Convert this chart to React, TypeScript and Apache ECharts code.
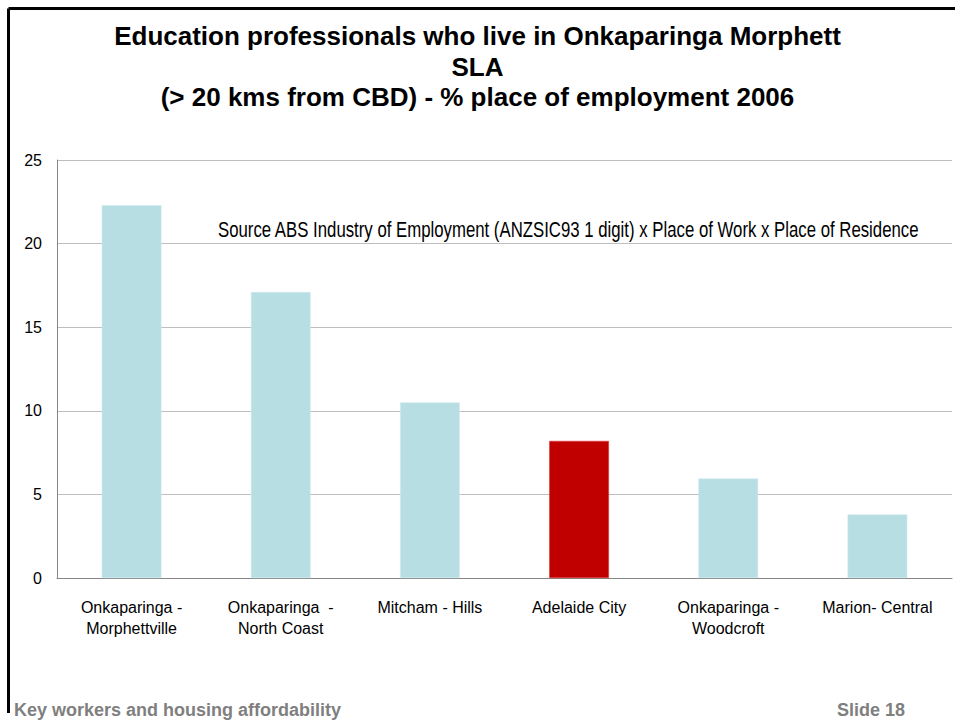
import React, { useEffect, useRef } from "react";
import * as echarts from "echarts";

const categories = [
  "Onkaparinga -\nMorphettville",
  "Onkaparinga  -\nNorth Coast",
  "Mitcham - Hills",
  "Adelaide City",
  "Onkaparinga -\nWoodcroft",
  "Marion- Central",
];
const values = [22.3, 17.1, 10.5, 8.2, 5.95, 3.8];
const highlightIndex = 3;
const yTicks = { min: 0, max: 25, interval: 5 };
const titleText =
  "Education professionals who live in Onkaparinga Morphett\nSLA\n(> 20 kms from CBD) - % place of employment 2006";
const sourceText =
  "Source ABS Industry of Employment (ANZSIC93 1 digit) x Place of Work x Place of Residence";
const footerLeft = "Key workers and housing affordability";
const footerRight = "Slide 18";

function measure(text: string, font: string): number {
  const c = document.createElement("canvas");
  const ctx = c.getContext("2d");
  if (!ctx) return 1;
  ctx.font = font;
  return ctx.measureText(text).width;
}

export default function App() {
  const ref = useRef<HTMLDivElement>(null);
  useEffect(() => {
    document.body.style.margin = "0";
    if (!ref.current) return;
    const chart = echarts.init(ref.current, null, { renderer: "svg" });
    const srcFont = "22px Arial";
    const srcW = measure(sourceText, srcFont);
    const srcScale = 702 / srcW;
    chart.setOption({
      animation: false,
      backgroundColor: "#ffffff",
      title: {
        text: titleText,
        left: "center",
        top: 16,
        textStyle: {
          fontFamily: "Arial",
          fontWeight: "bold",
          fontSize: 26,
          lineHeight: 30.5,
          color: "#000000",
        },
      },
      grid: { left: 57, right: 3, top: 160, bottom: 144, containLabel: false },
      xAxis: {
        type: "category",
        data: categories,
        axisLine: { show: true, lineStyle: { color: "#868686", width: 1 } },
        axisTick: { show: false },
        axisLabel: {
          color: "#000000",
          fontFamily: "Arial",
          fontSize: 16,
          lineHeight: 21,
          margin: 19,
          interval: 0,
        },
      },
      yAxis: {
        type: "value",
        min: yTicks.min,
        max: yTicks.max,
        interval: yTicks.interval,
        axisLine: { show: true, lineStyle: { color: "#868686", width: 1 } },
        axisTick: { show: false },
        axisLabel: {
          color: "#000000",
          fontFamily: "Arial",
          fontSize: 16,
          margin: 15,
        },
        splitLine: { show: true, lineStyle: { color: "#BEBEBE", width: 1 } },
      },
      series: [
        {
          type: "bar",
          barWidth: "40%",
          data: values.map((v, i) => ({
            value: v,
            itemStyle: {
              color: i === highlightIndex ? "#C00000" : "#B7DEE3",
              borderColor: i === highlightIndex ? "#E03030" : "#D0EAEE",
              borderWidth: 0.5,
            },
          })),
        },
      ],
      graphic: [
        {
          type: "line",
          shape: { x1: 8.5, y1: 8.5, x2: 955, y2: 8.5 },
          style: { stroke: "#000000", lineWidth: 3 },
        },
        {
          type: "line",
          shape: { x1: 8.5, y1: 8.5, x2: 8.5, y2: 713 },
          style: { stroke: "#000000", lineWidth: 3 },
        },
        {
          type: "text",
          x: 218,
          y: 229,
          scaleX: srcScale,
          style: {
            text: sourceText,
            font: srcFont,
            fill: "#000000",
            textVerticalAlign: "middle",
          },
        },
        {
          type: "text",
          x: 14,
          y: 710,
          style: {
            text: footerLeft,
            font: "bold 18px Arial",
            fill: "#7F7F7F",
            textVerticalAlign: "middle",
          },
        },
        {
          type: "text",
          x: 905,
          y: 710,
          style: {
            text: footerRight,
            font: "bold 18px Arial",
            fill: "#7F7F7F",
            textAlign: "right",
            textVerticalAlign: "middle",
          },
        },
      ],
    });
    return () => chart.dispose();
  }, []);
  return (
    <div
      ref={ref}
      style={{ position: "absolute", left: 0, top: 0, width: 955, height: 722 }}
    />
  );
}
